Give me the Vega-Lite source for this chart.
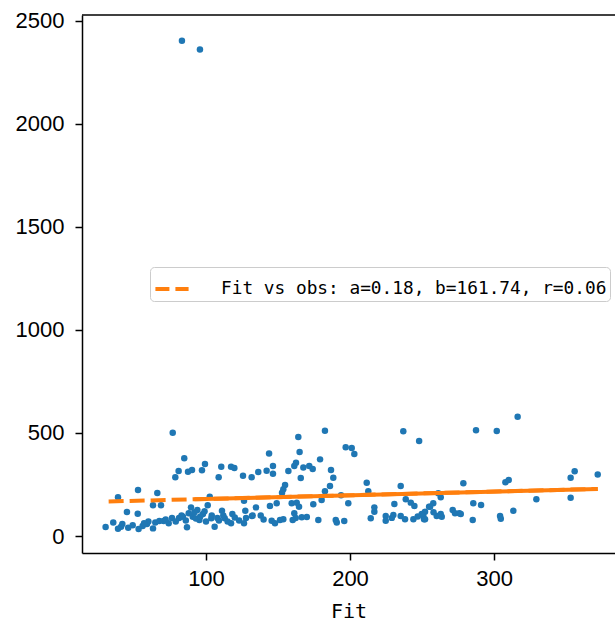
{
  "$schema": "https://vega.github.io/schema/vega-lite/v6.json",
  "autosize": {"type": "none"},
  "padding": {"left": 82, "top": 15, "right": 0, "bottom": 71},
  "width": 533,
  "height": 538,
  "background": "white",
  "config": {
    "view": {"stroke": null},
    "axis": {
      "grid": false,
      "labelFont": "Liberation Sans",
      "labelFontSize": 22,
      "labelColor": "black",
      "tickColor": "black",
      "domainColor": "black",
      "tickSize": 7,
      "tickWidth": 1.5,
      "domainWidth": 1.5,
      "titleFont": "DejaVu Sans Mono",
      "titleFontSize": 20,
      "titleFontWeight": "normal",
      "titleColor": "black"
    }
  },
  "datasets": {
    "points": [
      {"fit": 83.3, "obs": 2404}, {"fit": 95.8, "obs": 2361},
      {"fit": 76.9, "obs": 501}, {"fit": 84.9, "obs": 377}, {"fit": 81, "obs": 315}, {"fit": 78.7, "obs": 285},
      {"fit": 87.5, "obs": 312}, {"fit": 90.3, "obs": 320}, {"fit": 99.3, "obs": 349}, {"fit": 97.2, "obs": 319},
      {"fit": 110.6, "obs": 336}, {"fit": 108.8, "obs": 285}, {"fit": 117.4, "obs": 336}, {"fit": 119.7, "obs": 330},
      {"fit": 125.7, "obs": 293}, {"fit": 131.7, "obs": 285}, {"fit": 136.3, "obs": 311}, {"fit": 38.9, "obs": 188},
      {"fit": 52.8, "obs": 223}, {"fit": 66.2, "obs": 209}, {"fit": 63.2, "obs": 149}, {"fit": 68.75, "obs": 149},
      {"fit": 45.1, "obs": 116}, {"fit": 52.6, "obs": 108}, {"fit": 30.3, "obs": 44}, {"fit": 35.6, "obs": 65},
      {"fit": 38.9, "obs": 35}, {"fit": 41, "obs": 45}, {"fit": 41.9, "obs": 58}, {"fit": 49.1, "obs": 52},
      {"fit": 53.2, "obs": 34}, {"fit": 56, "obs": 49}, {"fit": 59, "obs": 58}, {"fit": 63.2, "obs": 37},
      {"fit": 64.8, "obs": 65}, {"fit": 67.6, "obs": 73}, {"fit": 70.6, "obs": 73}, {"fit": 74.1, "obs": 62},
      {"fit": 76.4, "obs": 87}, {"fit": 81.3, "obs": 87}, {"fit": 84, "obs": 94}, {"fit": 86.8, "obs": 42},
      {"fit": 89.6, "obs": 139}, {"fit": 90.8, "obs": 94}, {"fit": 94, "obs": 126}, {"fit": 95.4, "obs": 78},
      {"fit": 97.9, "obs": 107}, {"fit": 101.2, "obs": 149}, {"fit": 102.6, "obs": 191}, {"fit": 103.7, "obs": 86},
      {"fit": 106, "obs": 45}, {"fit": 107.9, "obs": 87}, {"fit": 111.1, "obs": 123}, {"fit": 113, "obs": 86},
      {"fit": 117.4, "obs": 62}, {"fit": 118.3, "obs": 107}, {"fit": 126.4, "obs": 171}, {"fit": 127.3, "obs": 123},
      {"fit": 127.8, "obs": 87}, {"fit": 126.4, "obs": 62}, {"fit": 131.9, "obs": 97}, {"fit": 134.7, "obs": 139},
      {"fit": 182.6, "obs": 511}, {"fit": 164.1, "obs": 481}, {"fit": 237, "obs": 508}, {"fit": 248, "obs": 461},
      {"fit": 143.8, "obs": 401}, {"fit": 165, "obs": 408}, {"fit": 197, "obs": 431}, {"fit": 201.2, "obs": 427},
      {"fit": 203, "obs": 398}, {"fit": 179.2, "obs": 372}, {"fit": 162.5, "obs": 356}, {"fit": 161.3, "obs": 340},
      {"fit": 167.6, "obs": 333}, {"fit": 171.7, "obs": 340}, {"fit": 174.1, "obs": 325}, {"fit": 157.2, "obs": 315},
      {"fit": 146.5, "obs": 340}, {"fit": 142.1, "obs": 317}, {"fit": 146.5, "obs": 302}, {"fit": 165.8, "obs": 282},
      {"fit": 186.8, "obs": 320}, {"fit": 188.4, "obs": 283}, {"fit": 186.1, "obs": 243}, {"fit": 182.6, "obs": 217},
      {"fit": 154.9, "obs": 248}, {"fit": 153.7, "obs": 227}, {"fit": 152.8, "obs": 210}, {"fit": 211.6, "obs": 259},
      {"fit": 212.7, "obs": 217}, {"fit": 235.2, "obs": 243}, {"fit": 180.3, "obs": 175}, {"fit": 174.5, "obs": 154},
      {"fit": 193.8, "obs": 198}, {"fit": 198.8, "obs": 159}, {"fit": 159.5, "obs": 159}, {"fit": 163, "obs": 162},
      {"fit": 164.6, "obs": 142}, {"fit": 144.4, "obs": 146}, {"fit": 149.1, "obs": 159}, {"fit": 132.4, "obs": 99},
      {"fit": 161.3, "obs": 110}, {"fit": 162.3, "obs": 87}, {"fit": 166.5, "obs": 91}, {"fit": 160.2, "obs": 78},
      {"fit": 153.7, "obs": 81}, {"fit": 151.4, "obs": 78}, {"fit": 145.6, "obs": 74}, {"fit": 147.9, "obs": 62},
      {"fit": 190.1, "obs": 78}, {"fit": 190.8, "obs": 65}, {"fit": 196, "obs": 73}, {"fit": 216.9, "obs": 139},
      {"fit": 216.9, "obs": 118}, {"fit": 214.4, "obs": 86}, {"fit": 230.8, "obs": 155}, {"fit": 238.7, "obs": 178},
      {"fit": 242.2, "obs": 162}, {"fit": 244.7, "obs": 146}, {"fit": 224.8, "obs": 97}, {"fit": 224.8, "obs": 74},
      {"fit": 230.1, "obs": 102}, {"fit": 235.2, "obs": 97}, {"fit": 238.2, "obs": 81}, {"fit": 244, "obs": 81},
      {"fit": 249.8, "obs": 107}, {"fit": 251.4, "obs": 81}, {"fit": 254.9, "obs": 142},
      {"fit": 316.4, "obs": 579}, {"fit": 287.5, "obs": 513}, {"fit": 301.9, "obs": 510}, {"fit": 278.7, "obs": 256},
      {"fit": 307.9, "obs": 261}, {"fit": 310.2, "obs": 272}, {"fit": 353.2, "obs": 283}, {"fit": 356, "obs": 314},
      {"fit": 372, "obs": 298}, {"fit": 329.4, "obs": 178}, {"fit": 353.2, "obs": 186}, {"fit": 261.3, "obs": 207},
      {"fit": 263, "obs": 188}, {"fit": 285.6, "obs": 159}, {"fit": 291, "obs": 150}, {"fit": 257.8, "obs": 159},
      {"fit": 255.6, "obs": 142}, {"fit": 252.1, "obs": 118}, {"fit": 250.9, "obs": 97}, {"fit": 252.1, "obs": 81},
      {"fit": 260.2, "obs": 97}, {"fit": 263, "obs": 107}, {"fit": 263.7, "obs": 94}, {"fit": 271.3, "obs": 126},
      {"fit": 272.9, "obs": 110}, {"fit": 275.9, "obs": 110}, {"fit": 276.9, "obs": 107}, {"fit": 285.2, "obs": 78},
      {"fit": 304.2, "obs": 97}, {"fit": 304.7, "obs": 84}, {"fit": 313.4, "obs": 123},
      {"fit": 72, "obs": 80}, {"fit": 79, "obs": 70}, {"fit": 83, "obs": 100}, {"fit": 86, "obs": 75},
      {"fit": 88, "obs": 110}, {"fit": 92, "obs": 115}, {"fit": 93, "obs": 85}, {"fit": 96, "obs": 95},
      {"fit": 99, "obs": 120}, {"fit": 100, "obs": 70}, {"fit": 104, "obs": 100}, {"fit": 109, "obs": 75},
      {"fit": 112, "obs": 100}, {"fit": 115, "obs": 70}, {"fit": 120, "obs": 90}, {"fit": 123, "obs": 75},
      {"fit": 60, "obs": 70}, {"fit": 57, "obs": 62}, {"fit": 46, "obs": 40}, {"fit": 140, "obs": 80},
      {"fit": 138, "obs": 100}, {"fit": 170, "obs": 92}, {"fit": 178, "obs": 78}, {"fit": 229, "obs": 88},
      {"fit": 247, "obs": 95}, {"fit": 258, "obs": 115}
    ],
    "line": [
      {"fit": 32.4, "obs": 167.6, "series": "Fit vs obs: a=0.18, b=161.74, r=0.06"},
      {"fit": 372, "obs": 228.7, "series": "Fit vs obs: a=0.18, b=161.74, r=0.06"}
    ],
    "line_solid": [
      {"fit": 92, "obs": 178.3},
      {"fit": 372, "obs": 228.7}
    ]
  },
  "layer": [
    {
      "data": {"name": "points"},
      "mark": {"type": "circle", "size": 42, "color": "#1f77b4", "opacity": 1},
      "encoding": {
        "x": {"field": "fit", "type": "quantitative", "scale": {"domain": [13.9, 384], "nice": false, "zero": false},
              "axis": {"values": [100, 200, 300], "format": "d", "title": "Fit", "labelPadding": 8, "titlePadding": 12}},
        "y": {"field": "obs", "type": "quantitative", "scale": {"domain": [-82.5, 2529], "nice": false, "zero": false},
              "axis": {"values": [0, 500, 1000, 1500, 2000, 2500], "format": "d", "title": null, "labelPadding": 11}}
      }
    },
    {
      "data": {"name": "line"},
      "mark": {"type": "line", "strokeWidth": 4, "strokeDash": [15, 6]},
      "encoding": {
        "x": {"field": "fit", "type": "quantitative"},
        "y": {"field": "obs", "type": "quantitative"},
        "color": {
          "field": "series", "type": "nominal",
          "scale": {"range": ["#ff7f0e"]},
          "legend": {
            "title": null,
            "orient": "none",
            "legendX": 68,
            "legendY": 252,
            "padding": 3,
            "strokeColor": "#cccccc",
            "fillColor": "white",
            "cornerRadius": 4,
            "symbolType": "stroke",
            "symbolSize": 1100,
            "symbolStrokeWidth": 4,
            "symbolDash": [14, 6],
            "symbolStrokeColor": "#ff7f0e",
            "labelFont": "DejaVu Sans Mono",
            "labelFontSize": 17.8,
            "labelColor": "black",
            "labelOffset": 30,
            "labelLimit": 500
          }
        }
      }
    },
    {
      "data": {"name": "line_solid"},
      "mark": {"type": "line", "strokeWidth": 4, "color": "#ff7f0e"},
      "encoding": {
        "x": {"field": "fit", "type": "quantitative"},
        "y": {"field": "obs", "type": "quantitative"}
      }
    },
    {
      "data": {"values": [{}]},
      "mark": {"type": "rule", "color": "black", "strokeWidth": 1.5},
      "encoding": {
        "x": {"datum": 13.9, "type": "quantitative"},
        "x2": {"datum": 384},
        "y": {"datum": 2529, "type": "quantitative"}
      }
    }
  ]
}
